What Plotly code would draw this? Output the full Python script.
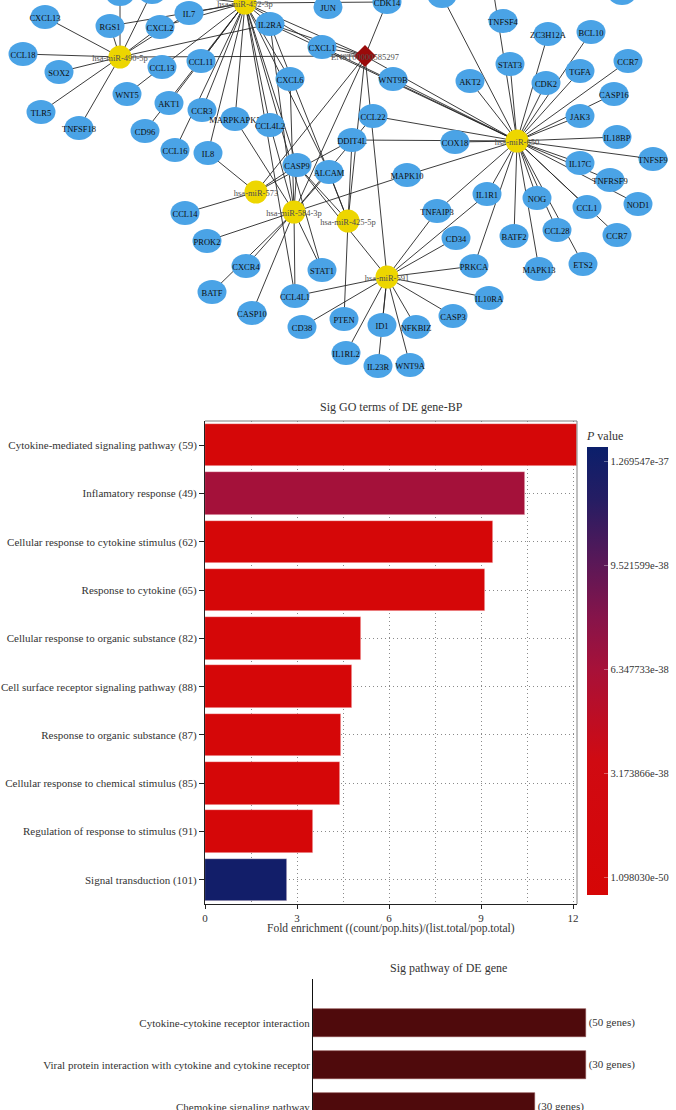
import plotly.graph_objects as go

W, H = 676, 1110
SERIF = "Liberation Serif"

# ---------------- network data ----------------
gene_ids = ["CXCL13", "RGS1", "IL7", "CXCL2", "JUN", "IL2RA", "CXCL1", "CDK14", "CCL18", "SOX2",
            "CCL13", "CCL11", "CXCL6", "WNT5", "TLR5", "AKT1", "CCR3", "MARPKAPK5", "CCL4L2", "TNFSF18",
            "CD96", "CCL16", "IL8", "CASP9", "ALCAM", "TNFSF4", "ZC3H12A", "BCL10", "CCR7", "WNT9B",
            "STAT3", "AKT2", "CDK2", "TGFA", "CASP16", "JAK3", "CCL22", "DDIT4L", "COX18", "IL18BP",
            "TNFSF9", "IL17C", "TNFRSF9", "MAPK10", "IL1R1", "NOG", "NOD1", "CCL1", "TNFAIP3", "CD34",
            "BATF2", "CCL28", "CCR7_b", "PRKCA", "MAPK13", "ETS2", "IL10RA", "CASP3", "PTEN", "ID1",
            "NFKBIZ", "IL1RL2", "IL23R", "WNT9A", "CCL14", "PROK2", "CXCR4", "STAT1", "BATF", "CCL4L1",
            "CASP10", "CD38", "TOP1", "TOP2", "TOP3", "TOP4", "TOP5"]
gene_labels = ["CXCL13", "RGS1", "IL7", "CXCL2", "JUN", "IL2RA", "CXCL1", "CDK14", "CCL18", "SOX2",
               "CCL13", "CCL11", "CXCL6", "WNT5", "TLR5", "AKT1", "CCR3", "MARPKAPK5", "CCL4L2", "TNFSF18",
               "CD96", "CCL16", "IL8", "CASP9", "ALCAM", "TNFSF4", "ZC3H12A", "BCL10", "CCR7", "WNT9B",
               "STAT3", "AKT2", "CDK2", "TGFA", "CASP16", "JAK3", "CCL22", "DDIT4L", "COX18", "IL18BP",
               "TNFSF9", "IL17C", "TNFRSF9", "MAPK10", "IL1R1", "NOG", "NOD1", "CCL1", "TNFAIP3", "CD34",
               "BATF2", "CCL28", "CCR7", "PRKCA", "MAPK13", "ETS2", "IL10RA", "CASP3", "PTEN", "ID1",
               "NFKBIZ", "IL1RL2", "IL23R", "WNT9A", "CCL14", "PROK2", "CXCR4", "STAT1", "BATF", "CCL4L1",
               "CASP10", "CD38", "", "", "", "", ""]
gene_x = [45, 110, 189, 160, 328, 270, 322, 387, 23, 59,
          162, 201, 290, 127, 41, 169, 202, 235, 270, 79,
          145, 175, 208, 297, 329, 503, 548, 591, 628, 393,
          510, 470, 546, 580, 614, 580, 373, 352, 455, 617,
          653, 580, 610, 407, 487, 537, 638, 587, 437, 456,
          514, 557, 617, 474, 539, 583, 489, 453, 344, 382,
          416, 346, 378, 410, 185, 207, 246, 322, 212, 295,
          252, 302, 120, 152, 442, 490, 622]
gene_y = [17, 26, 13, 27, 7, 24, 47, 2, 54, 72,
          67, 61, 79, 94, 112, 103, 110, 119, 125, 128,
          131, 150, 153, 165, 172, 21, 34, 32, 61, 79,
          64, 81, 83, 71, 94, 116, 116, 140, 142, 137,
          159, 163, 180, 175, 194, 198, 204, 207, 211, 238,
          236, 230, 235, 266, 269, 264, 298, 316, 319, 325,
          327, 353, 366, 365, 213, 241, 266, 270, 292, 296,
          313, 327, -6, -8, -4, -30, -7]

mirna_names = ["hsa-miR-490-5p", "hsa-miR-452-3p", "hsa-miR-650", "hsa-miR-573",
               "hsa-miR-584-3p", "hsa-miR-425-5p", "hsa-miR-591"]
mirna_x = [120, 245, 517, 256, 294, 348, 387]
mirna_y = [57, 3, 141, 192, 212, 221, 277]

lnc_names = ["ENST00000585297"]
lnc_x = [365]
lnc_y = [56]

edges_mir490 = ["CXCL13", "RGS1", "CCL18", "SOX2", "TLR5", "TNFSF18", "IL7", "CXCL2", "IL2RA",
                "TOP1", "TOP2"]
edges_mir452 = ["IL7", "RGS1", "CXCL2", "WNT5", "CD96", "AKT1", "CCL16", "CCL11", "CCR3", "MARPKAPK5",
                "IL8", "CCL4L2", "CXCL6", "CASP9", "ALCAM", "CXCL1", "IL2RA", "CDK14", "CCL4L1", "STAT1",
                "TOP2"]
edges_mir650 = ["COX18", "DDIT4L", "CCL22", "WNT9B", "CXCL1", "IL2RA", "AKT2", "TOP3", "TOP4", "STAT3",
                "ZC3H12A", "CDK2", "BCL10", "TGFA", "CCR7", "CASP16", "JAK3", "IL18BP", "TNFSF9",
                "IL17C", "TNFRSF9", "NOD1", "CCL1", "CCR7_b", "ETS2", "CCL28", "MAPK13", "BATF2", "NOG",
                "IL1R1", "TNFAIP3", "MAPK10", "PRKCA"]
edges_mir573 = ["IL8", "CCL14", "DDIT4L", "CASP9"]
edges_mir584 = ["PROK2", "CXCR4", "BATF", "CASP10", "CCL4L1", "STAT1", "CASP9", "ALCAM", "CCL4L2",
                "MARPKAPK5", "CCL22", "MAPK10", "IL2RA", "CXCL6"]
edges_mir425 = ["CASP9", "ALCAM", "PTEN", "DDIT4L", "IL2RA"]
edges_mir591 = ["TNFAIP3", "CD34", "IL1R1", "PRKCA", "IL10RA", "CASP3", "NFKBIZ", "WNT9A", "IL23R",
                "ID1", "IL1RL2", "CD38", "CCL4L1", "CASP9"]
edges_lnc = ["CDK14", "CXCL1", "IL2RA", "hsa-miR-490-5p", "hsa-miR-452-3p", "hsa-miR-650",
             "hsa-miR-573", "hsa-miR-584-3p", "hsa-miR-425-5p", "hsa-miR-591"]

# ---------------- GO data ----------------
go_terms = ["Cytokine-mediated signaling pathway (59)", "Inflamatory response (49)",
            "Cellular response to cytokine stimulus (62)", "Response to cytokine (65)",
            "Cellular response to organic substance (82)", "Cell surface receptor signaling pathway (88)",
            "Response to organic substance (87)", "Cellular response to chemical stimulus (85)",
            "Regulation of response to stimulus (91)", "Signal transduction (101)"]
go_fold = [12.13, 10.45, 9.38, 9.14, 5.08, 4.79, 4.44, 4.40, 3.52, 2.66]
go_pvalue = [1.098030e-50, 6.5e-38, 1.0e-47, 3.0e-47, 2.0e-44, 5.0e-44, 1.0e-43, 2.0e-43, 1.0e-42,
             1.269547e-37]
cb_ticks = [1.269547e-37, 9.521599e-38, 6.347733e-38, 3.173866e-38, 1.098030e-50]
cb_labels = ["1.269547e-37", "9.521599e-38", "6.347733e-38", "3.173866e-38", "1.098030e-50"]
go_xticks = [0, 3, 6, 9, 12]

# ---------------- pathway data ----------------
path_terms = ["Cytokine-cytokine receptor interaction",
              "Viral protein interaction with cytokine and cytokine receptor",
              "Chemokine signaling pathway"]
path_score = [10.0, 10.0, 8.14]
path_genes = ["(50 genes)", "(30 genes)", "(30 genes)"]

# ---------------- build figure ----------------
pos = {}
for n, x, y in zip(gene_ids, gene_x, gene_y):
    pos[n] = (x, y)
for n, x, y in zip(mirna_names, mirna_x, mirna_y):
    pos[n] = (x, y)
for n, x, y in zip(lnc_names, lnc_x, lnc_y):
    pos[n] = (x, y)

edge_pairs = []
for hub, lst in [("hsa-miR-490-5p", edges_mir490), ("hsa-miR-452-3p", edges_mir452),
                 ("hsa-miR-650", edges_mir650), ("hsa-miR-573", edges_mir573),
                 ("hsa-miR-584-3p", edges_mir584), ("hsa-miR-425-5p", edges_mir425),
                 ("hsa-miR-591", edges_mir591), (lnc_names[0], edges_lnc)]:
    for t in lst:
        edge_pairs.append((hub, t))

ex, ey = [], []
for a, b in edge_pairs:
    ex += [pos[a][0], pos[b][0], None]
    ey += [pos[a][1], pos[b][1], None]

fig = go.Figure()
fig.add_trace(go.Scatter(x=ex, y=ey, mode="lines", line=dict(color="#262626", width=0.9),
                         hoverinfo="skip", showlegend=False, xaxis="x", yaxis="y"))

shapes = []
RX, RY = 14.5, 12
for n, lab, x, y in zip(gene_ids, gene_labels, gene_x, gene_y):
    shapes.append(dict(type="circle", xref="x", yref="y", x0=x - RX, x1=x + RX, y0=y - RY, y1=y + RY,
                       fillcolor="#4AA3E6", line=dict(width=0), layer="above",
                       label=dict(text=lab, font=dict(family=SERIF, size=8.5, color="#0d0d0d"),
                                  textposition="middle center")))
for n, x, y in zip(mirna_names, mirna_x, mirna_y):
    shapes.append(dict(type="circle", xref="x", yref="y", x0=x - 11.5, x1=x + 11.5, y0=y - 11.5,
                       y1=y + 11.5, fillcolor="#EDD600", line=dict(width=0), layer="above",
                       label=dict(text=n, font=dict(family=SERIF, size=8.5, color="#505050"),
                                  textposition="middle center")))
for n, x, y in zip(lnc_names, lnc_x, lnc_y):
    shapes.append(dict(type="path", xref="x", yref="y",
                       path=f"M {x},{y - 11} L {x + 11},{y} L {x},{y + 11} L {x - 11},{y} Z",
                       fillcolor="#9A0A0A", line=dict(width=0), layer="above",
                       label=dict(text=n, font=dict(family=SERIF, size=8.5, color="#505050"),
                                  textposition="middle center")))

# frame of GO plot (top and right)
shapes.append(dict(type="line", xref="x2 domain", yref="y2 domain", x0=0, x1=1, y0=1, y1=1,
                   line=dict(color="#808080", width=1), layer="above"))
shapes.append(dict(type="line", xref="x2 domain", yref="y2 domain", x0=1, x1=1, y0=0, y1=1,
                   line=dict(color="#808080", width=1), layer="above"))

# GO bars
cmin = -5.3e-39
cmax = 1.314e-37
fig.add_trace(go.Bar(x=go_fold, y=go_terms, orientation="h", width=0.88,
                     marker=dict(color=go_pvalue, coloraxis="coloraxis",
                                 line=dict(color="rgba(255,230,230,0.7)", width=0.6)),
                     xaxis="x2", yaxis="y2", showlegend=False, hoverinfo="skip"))

# pathway bars
fig.add_trace(go.Bar(x=path_score, y=list(range(len(path_terms))), orientation="h", width=0.66,
                     marker=dict(color="#4F0A0C", line=dict(color="#8A4A4A", width=0.6)),
                     text=path_genes, textposition="outside", cliponaxis=False,
                     textfont=dict(family=SERIF, size=11, color="#333333"),
                     xaxis="x3", yaxis="y3", showlegend=False, hoverinfo="skip"))

tick_font = dict(family=SERIF, size=11, color="#333333")
DOTS = "1px,3px"

fig.update_layout(
    width=W, height=H, margin=dict(l=0, r=0, t=0, b=0, autoexpand=False),
    paper_bgcolor="white", plot_bgcolor="white",
    font=dict(family=SERIF, color="#333333"),
    bargap=0,
    xaxis=dict(domain=[0, 1], range=[0, W], visible=False, fixedrange=True),
    yaxis=dict(domain=[1 - 385 / H, 1], range=[385, 0], visible=False, fixedrange=True, anchor="x"),
    xaxis2=dict(domain=[205 / W, 577 / W], anchor="y2", range=[0, 12.13], tickvals=go_xticks,
                ticks="outside", ticklen=4, tickcolor="#222", showline=True, linecolor="#222",
                showgrid=True, gridcolor="#8a8a8a", griddash=DOTS, gridwidth=1, zeroline=False,
                minor=dict(dtick=1.5, tick0=0, showgrid=True, gridcolor="#8a8a8a", griddash=DOTS,
                           ticks=""),
                tickfont=tick_font),
    yaxis2=dict(domain=[1 - 904 / H, 1 - 421 / H], anchor="x2", type="category",
                categoryorder="array", categoryarray=go_terms, autorange="reversed",
                ticks="outside", ticklen=5, tickcolor="#222", showline=True, linecolor="#222",
                showgrid=True, gridcolor="#8a8a8a", griddash=DOTS, zeroline=False,
                tickfont=tick_font),
    xaxis3=dict(domain=[313 / W, 587 / W], anchor="y3", range=[0, 10.05], visible=False),
    yaxis3=dict(domain=[0, 1 - 979 / H], anchor="x3", range=[2.07, -1.05], tickvals=[0, 1, 2],
                ticktext=path_terms, ticks="", showline=True, linecolor="#111", showgrid=False,
                zeroline=False, tickfont=tick_font, ticklabeloverflow="allow"),
    coloraxis=dict(
        cmin=cmin, cmax=cmax,
        colorscale=[[0, "#D60606"], [0.3, "#D00A12"], [0.5, "#A81138"], [0.62, "#86144A"],
                    [0.75, "#571858"], [0.88, "#261D63"], [1, "#0B1F6B"]],
        colorbar=dict(x=587 / W, xanchor="left", y=1 - 428 / H, yanchor="top", len=467,
                      lenmode="pixels", thickness=21, thicknessmode="pixels", outlinewidth=0,
                      xpad=0, ypad=0, tickvals=cb_ticks, ticktext=cb_labels, ticks="inside",
                      ticklen=4, tickcolor="rgba(255,255,255,0.35)",
                      tickfont=dict(family=SERIF, size=10.5, color="#333333"),
                      title=dict(text="<i>P</i> value", side="top",
                                 font=dict(family=SERIF, size=12, color="#333333"))),
    ),
    shapes=shapes,
    annotations=[
        dict(text="Sig GO terms of DE gene-BP", x=391 / W, y=1 - 407 / H, xref="paper", yref="paper",
             showarrow=False, font=dict(family=SERIF, size=12, color="#333333"),
             xanchor="center", yanchor="middle"),
        dict(text="Fold enrichment ((count/pop.hits)/(list.total/pop.total)", x=391 / W,
             y=1 - 928 / H, xref="paper", yref="paper", showarrow=False,
             font=dict(family=SERIF, size=11.5, color="#333333"), xanchor="center", yanchor="middle"),
        dict(text="Sig pathway of DE gene", x=448 / W, y=1 - 968 / H, xref="paper", yref="paper",
             showarrow=False, font=dict(family=SERIF, size=12, color="#333333"),
             xanchor="center", yanchor="middle"),
    ],
)

fig.write_html("out.html", config={"displayModeBar": False},
               post_script="document.body.style.margin='0';")
